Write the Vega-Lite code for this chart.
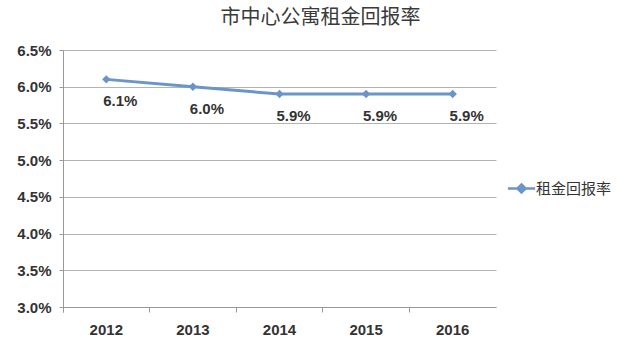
{
  "$schema": "https://vega.github.io/schema/vega-lite/v6.json",
  "autosize": "none",
  "width": 433,
  "height": 257,
  "padding": {"left": 63, "top": 50, "right": 144, "bottom": 56},
  "background": "white",
  "title": {
    "text": "市中心公寓租金回报率",
    "font": "Noto Sans CJK SC",
    "fontSize": 20,
    "fontWeight": "normal",
    "color": "#3a3a3a",
    "anchor": "middle",
    "dx": 41,
    "offset": 15
  },
  "config": {
    "view": {"stroke": null},
    "font": "Liberation Sans"
  },
  "data": {
    "values": [
      {"year": "2012", "rate": 0.061, "series": "租金回报率"},
      {"year": "2013", "rate": 0.060, "series": "租金回报率"},
      {"year": "2014", "rate": 0.059, "series": "租金回报率"},
      {"year": "2015", "rate": 0.059, "series": "租金回报率"},
      {"year": "2016", "rate": 0.059, "series": "租金回报率"}
    ]
  },
  "encoding": {
    "x": {
      "field": "year",
      "type": "ordinal",
      "scale": {"type": "band", "paddingInner": 0, "paddingOuter": 0},
      "axis": {
        "title": null,
        "labelAngle": 0,
        "labelFontSize": 15,
        "labelFontWeight": 600,
        "labelColor": "#333333",
        "labelPadding": 10,
        "domainColor": "#999999",
        "tickColor": "#999999",
        "tickSize": 5,
        "bandPosition": 0,
        "tickExtra": true,
        "grid": false
      }
    },
    "y": {
      "field": "rate",
      "type": "quantitative",
      "scale": {"domain": [0.03, 0.065], "nice": false, "zero": false},
      "axis": {
        "title": null,
        "values": [0.03, 0.035, 0.04, 0.045, 0.05, 0.055, 0.06, 0.065],
        "format": ".1%",
        "labelFontSize": 15,
        "labelFontWeight": 600,
        "labelColor": "#333333",
        "labelPadding": 8,
        "domainColor": "#999999",
        "tickColor": "#999999",
        "tickSize": 4,
        "gridColor": "#b3b3b3",
        "gridWidth": 1
      }
    }
  },
  "layer": [
    {
      "mark": {"type": "line", "strokeWidth": 3, "point": {"shape": "diamond", "size": 70, "filled": true, "color": "#82a6d6"}},
      "encoding": {
        "color": {
          "field": "series",
          "type": "nominal",
          "scale": {"range": ["#6b95c9"]},
          "legend": {
            "title": null,
            "orient": "none",
            "legendX": 448,
            "legendY": 128,
            "labelFontSize": 15,
            "labelFont": "Noto Sans CJK SC",
            "labelColor": "#333333",
            "symbolType": "M-1.5,0H1.5M0,-0.45L0.45,0L0,0.45L-0.45,0Z",
            "symbolSize": 330,
            "symbolStrokeWidth": 2.5,
            "symbolFillColor": "#6b95c9"
          }
        }
      }
    },
    {
      "mark": {"type": "text", "dx": 14, "dy": 22, "fontSize": 15, "fontWeight": 600, "color": "#333333"},
      "encoding": {
        "text": {"field": "rate", "type": "quantitative", "format": ".1%"}
      }
    }
  ]
}
